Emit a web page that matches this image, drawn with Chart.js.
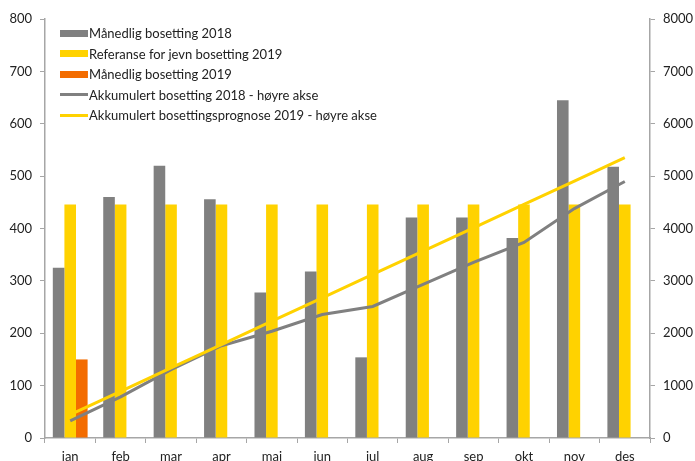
<!DOCTYPE html>
<html>
<head>
<meta charset="utf-8">
<script src="https://cdn.jsdelivr.net/npm/chart.js@4.4.1/dist/chart.umd.min.js"></script>
<style>
  html, body { margin: 0; padding: 0; background: #fff; overflow: hidden; }
  #wrap { position: relative; width: 695px; height: 470px; }
  #legend { position: absolute; left: 60px; top: 23px; font-family: Lato, sans-serif; font-size: 13px; color: #222; }
  .item { height: 20.5px; display: flex; align-items: center; white-space: nowrap; }
  .sw { width: 28px; margin-right: 1px; }
</style>
</head>
<body>
<div id="wrap">
  <canvas id="chart" width="695" height="470"></canvas>
  <div id="legend"></div>
</div>
<script>
// Data
const months = ['jan', 'feb', 'mar', 'apr', 'mai', 'jun', 'jul', 'aug', 'sep', 'okt', 'nov', 'des']
const monthly2018 = [325, 460, 520, 456, 278, 318, 154, 421, 421, 382, 645, 518]
const reference2019 = [446, 446, 446, 446, 446, 446, 446, 446, 446, 446, 446, 446]
const monthly2019 = [150, null, null, null, null, null, null, null, null, null, null, null]
const accumulated2018 = [325, 785, 1305, 1761, 2039, 2357, 2511, 2932, 3353, 3735, 4380, 4898]
const prognosis2019 = [446, 892, 1338, 1784, 2230, 2676, 3122, 3568, 4014, 4460, 4906, 5352]
const leftTicks = [0, 100, 200, 300, 400, 500, 600, 700, 800]
const rightTicks = [0, 1000, 2000, 3000, 4000, 5000, 6000, 7000, 8000]

const GREY = '#808080'
const YELLOW = '#FFD200'
const ORANGE = '#F36C00'
const AXIS = '#a6a6a6'
const TEXT = '#222'

const datasets = [
    { type: 'bar', label: 'Månedlig bosetting 2018', data: monthly2018, backgroundColor: GREY, yAxisID: 'y', order: 2 },
    { type: 'bar', label: 'Referanse for jevn bosetting 2019', data: reference2019, backgroundColor: YELLOW, yAxisID: 'y', order: 2 },
    { type: 'bar', label: 'Månedlig bosetting 2019', data: monthly2019, backgroundColor: ORANGE, yAxisID: 'y', order: 2 },
    { type: 'line', label: 'Akkumulert bosetting 2018 - høyre akse', data: accumulated2018, borderColor: GREY, backgroundColor: GREY, borderWidth: 3, pointRadius: 0, tension: 0, yAxisID: 'y1', order: 1 },
    { type: 'line', label: 'Akkumulert bosettingsprognose 2019 - høyre akse', data: prognosis2019, borderColor: YELLOW, backgroundColor: YELLOW, borderWidth: 3, pointRadius: 0, tension: 0, yAxisID: 'y1', order: 0 }
]

const tickFont = { family: 'Lato, sans-serif', size: 13 }

new Chart(document.getElementById('chart'), {
    data: { labels: months, datasets: datasets },
    options: {
        responsive: false,
        animation: false,
        categoryPercentage: 0.69,
        barPercentage: 1,
        layout: { padding: { top: 19, left: 0, right: 0, bottom: 0 } },
        plugins: { legend: { display: false }, tooltip: { enabled: false } },
        scales: {
            x: {
                grid: { display: true, drawOnChartArea: false, drawTicks: true, tickLength: 5, color: AXIS, offset: true },
                border: { display: true, color: AXIS, width: 1.5 },
                ticks: { color: TEXT, font: tickFont, padding: 6, maxRotation: 0 },
                afterFit: (scale) => { scale.height = 32 }
            },
            y: {
                position: 'left',
                min: 0, max: 800,
                afterBuildTicks: (scale) => { scale.ticks = leftTicks.map(v => ({ value: v })) },
                grid: { display: true, drawOnChartArea: false, drawTicks: true, tickLength: 5, color: AXIS },
                border: { display: true, color: AXIS, width: 1.5 },
                ticks: { color: TEXT, font: tickFont, padding: 8, callback: (v) => String(v) },
                afterFit: (scale) => { scale.width = 45 }
            },
            y1: {
                position: 'right',
                min: 0, max: 8000,
                afterBuildTicks: (scale) => { scale.ticks = rightTicks.map(v => ({ value: v })) },
                grid: { display: true, drawOnChartArea: false, drawTicks: true, tickLength: 5, color: AXIS },
                border: { display: true, color: AXIS, width: 1.5 },
                ticks: { color: TEXT, font: tickFont, padding: 8, callback: (v) => String(v) },
                afterFit: (scale) => { scale.width = 45 }
            }
        }
    }
})

// Legend inside the plot area, one item per row
const legend = document.getElementById('legend')
datasets.forEach(ds => {
    const item = document.createElement('div')
    item.className = 'item'
    const sw = document.createElement('span')
    sw.className = 'sw'
    if (ds.type === 'bar') {
        sw.style.height = '7px'
        sw.style.background = ds.backgroundColor
    } else {
        sw.style.height = '3px'
        sw.style.background = ds.borderColor
    }
    item.appendChild(sw)
    item.appendChild(document.createTextNode(ds.label))
    legend.appendChild(item)
})
</script>
</body>
</html>
